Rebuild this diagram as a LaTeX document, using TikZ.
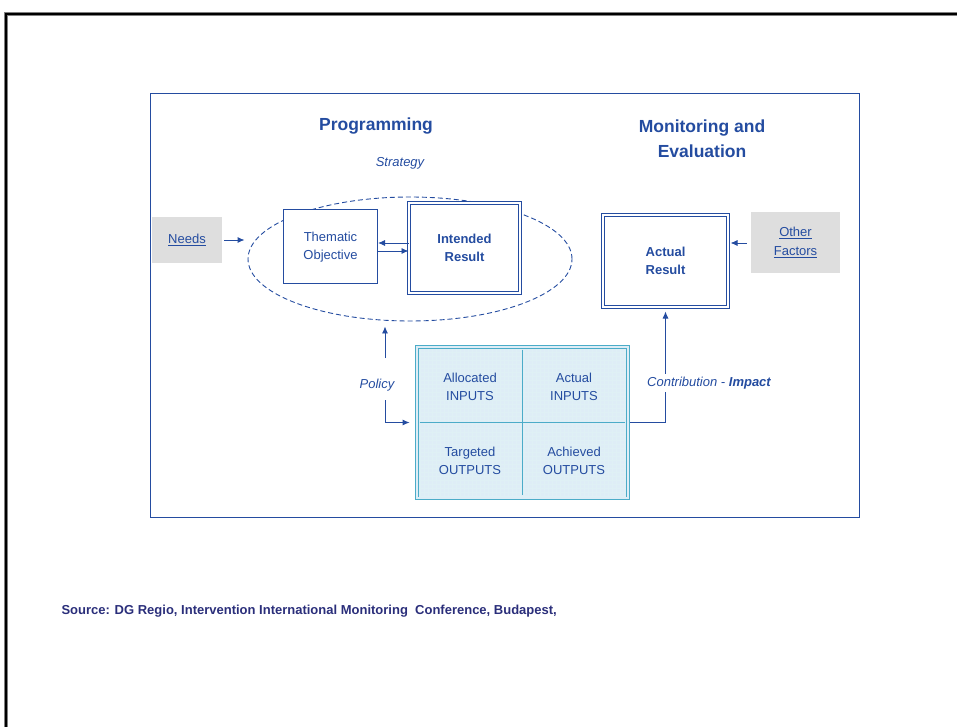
\documentclass[tikz,border=0pt]{standalone}
\usepackage{fontspec}
\setmainfont{Liberation Sans}
\usetikzlibrary{shapes.geometric,arrows.meta,positioning}
\definecolor{dgblue}{RGB}{36,76,160}
\definecolor{navy}{RGB}{42,46,122}
\definecolor{gridfill}{RGB}{222,237,246}
\definecolor{gridline}{RGB}{75,172,200}
\definecolor{boxgray}{RGB}{222,222,222}
\tikzset{>={Latex[length=7pt,width=6pt]}}
\tikzset{
  txt/.style={text=dgblue, font=\fontsize{13}{18.5}\selectfont, align=center},
  plainbox/.style={txt, draw=dgblue, fill=white, line width=1pt},
  resultbox/.style={txt, font=\fontsize{13}{18.5}\selectfont\bfseries, draw=dgblue, fill=white, double, double distance=1.6pt, line width=1pt},
  greybox/.style={txt, fill=boxgray},
  cell/.style={txt, minimum width=104pt, minimum height=74pt},
  heading/.style={text=dgblue, font=\fontsize{17.5}{25}\selectfont\bfseries, align=center},
  link/.style={->, draw=dgblue, line width=0.9pt},
}
\begin{document}
\begin{tikzpicture}[x=1pt,y=-1pt,line cap=butt]
		\useasboundingbox (0,0) rectangle (957,727);
		% outer frame
		\draw[gray,line width=4pt] (6,727) -- (6,14) -- (957,14);
		\draw[black,line width=2.6pt] (6,727) -- (6,14) -- (957,14);
		\draw[dgblue,line width=0.8pt] (150,93) rectangle (859,517);
		% headings
		\node[heading] (prog) at (376,126) {Programming};
		\node[heading] (monev) at (702,139) {Monitoring and\\Evaluation};
		% programming side
		\node[draw=dgblue, dashed, dash pattern=on 5pt off 3pt, line width=0.9pt, ellipse, minimum width=324pt, minimum height=124pt] (strategy) at (410,259) {};
		\node[txt, font=\fontsize{13}{16}\selectfont\itshape] (strat) at (400,163) {Strategy};
		\node[greybox, minimum width=70pt, minimum height=46pt] (needs) at (187,240) {\underline{Needs}};
		\node[plainbox, minimum width=94pt, minimum height=74pt, text depth=1pt] (thematic) at (330.5,246.5) {Thematic\\Objective};
		\node[resultbox, minimum width=111pt, minimum height=90pt] (intended) at (464.5,248) {Intended\\Result};
		% monitoring side
		\node[resultbox, minimum width=125pt, minimum height=92pt] (actual) at (665.5,261) {Actual\\Result};
		\node[greybox, minimum width=89pt, minimum height=61pt] (other) at (795.5,242.5) {\underline{Other}\\\underline{Factors}};
		% inputs / outputs
		\node[draw=gridline, double=gridfill, double distance=2pt, line width=0.8pt, fill=gridfill, minimum width=211pt, minimum height=151pt] (grid) at (522.5,422.5) {};
		\draw[step=4pt, gridline!18, very thin] (419,349) grid (626,496);
		\draw[gridline, line width=0.7pt] ([yshift=-3pt]grid.north) -- ([yshift=3pt]grid.south);
		\draw[gridline, line width=0.7pt] ([xshift=3pt]grid.west) -- ([xshift=-3pt]grid.east);
		\node[cell] (alloc) at (470,387) {Allocated\\INPUTS};
		\node[cell] (actin) at (574,387) {Actual\\INPUTS};
		\node[cell] (target) at (470,461) {Targeted\\OUTPUTS};
		\node[cell] (achiev) at (574,461) {Achieved\\OUTPUTS};
		% connectors
		\draw[link, shorten <=2pt, shorten >=3pt] (needs.east) -- (needs.east -| strategy.west);
		\draw[link] (intended.west |- 0,243) -- (thematic.east |- 0,243);
		\draw[link] (thematic.east |- 0,251) -- (intended.west |- 0,251);
		\draw[link, shorten <=4pt, shorten >=2pt] (other.west |- 0,243) -- (actual.east |- 0,243);
		\node[txt, font=\fontsize{13}{16}\selectfont\itshape] (policy) at (377,385) {Policy};
		\coordinate (polup) at (385,358);
		\coordinate (poldown) at (385,400);
		\draw[link, shorten >=5pt] (polup) -- (polup |- strategy.south);
		\draw[link, shorten >=7pt] (poldown) |- (grid.west);
		\draw[link, shorten <=2pt, shorten >=4pt] (grid.east) -| (actual.south);
		\node[txt, fill=white, inner xsep=1pt, font=\fontsize{13}{16}\selectfont\itshape] (contrib) at (709,383) {Contribution - \textbf{Impact}};
		% source
		\node[anchor=west, text=navy, font=\fontsize{13}{15}\selectfont\bfseries] (source) at (58,611) {Source: DG Regio, Intervention International Monitoring\ \ Conference, Budapest,};
		\end{tikzpicture}
\end{document}
